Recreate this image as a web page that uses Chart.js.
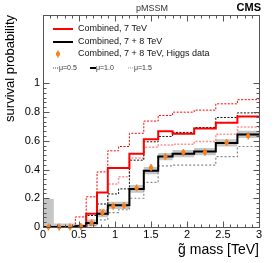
<!DOCTYPE html>
<html>
<head>
<meta charset="utf-8">
<script src="https://cdn.jsdelivr.net/npm/chart.js@4/dist/chart.umd.min.js"></script>
<style>
html, body { margin: 0; padding: 0; background: #fff; }
#chart { display: block; }
</style>
</head>
<body>
<canvas id="chart" width="274" height="263"></canvas>
<script>
// gluino mass bins (TeV)
const binEdges = [0, 0.15, 0.3, 0.45, 0.6, 0.75, 0.9, 1.05, 1.2, 1.4, 1.6, 1.8, 2.1, 2.4, 2.7, 3.0];

// survival probability per bin
const comb7 = [0, 0, 0, 0.005, 0.093, 0.24, 0.41, 0.41, 0.51, 0.611, 0.667, 0.648, 0.686, 0.726, 0.769];
const comb7Mu05 = [0, 0, 0, 0.07, 0.21, 0.383, 0.53, 0.56, 0.652, 0.737, 0.776, 0.799, 0.813, 0.857, 0.886];
const comb7Mu15 = [0, 0, 0, 0, 0.02, 0.12, 0.30, 0.35, 0.48, 0.555, 0.57, 0.575, 0.595, 0.646, 0.695];
const comb78 = [0, 0, 0, 0.005, 0.028, 0.093, 0.151, 0.151, 0.265, 0.392, 0.49, 0.51, 0.525, 0.585, 0.644];
const comb78Mu05 = [0, 0, 0, 0.01, 0.08, 0.16, 0.23, 0.265, 0.465, 0.593, 0.63, 0.658, 0.692, 0.762, 0.794];
const comb78Mu15 = [0, 0, 0, 0, 0.01, 0.05, 0.10, 0.12, 0.20, 0.31, 0.425, 0.43, 0.43, 0.49, 0.56];
const bandLow = [0, 0, 0, 0, 0.005, 0.068, 0.126, 0.126, 0.238, 0.367, 0.465, 0.485, 0.5, 0.56, 0.619];
const bandHigh = [0.195, 0.025, 0.025, 0.02, 0.053, 0.118, 0.176, 0.176, 0.292, 0.417, 0.515, 0.535, 0.55, 0.61, 0.669];
const higgs = [0, 0, 0, 0.003, 0.03, 0.10, 0.144, 0.149, 0.272, 0.414, 0.49, 0.518, 0.52, 0.588, 0.634];

const xTicks = [0, 0.5, 1, 1.5, 2, 2.5, 3];
const yTicks = [0, 0.2, 0.4, 0.6, 0.8, 1];

const FONT = 'Liberation Sans, Arial, Helvetica, sans-serif';
const ORANGE = '#f7801f';

function steps(vals) {
    const pts = vals.map((v, i) => ({ x: binEdges[i], y: v }));
    pts.push({ x: binEdges[binEdges.length - 1], y: vals[vals.length - 1] });
    return pts;
}

function centers(vals) {
    return vals.map((v, i) => ({ x: (binEdges[i] + binEdges[i + 1]) / 2, y: v }));
}

function stepLine(vals, color, width, dash, order) {
    return {
        data: steps(vals),
        stepped: 'before',
        borderColor: color,
        borderWidth: width,
        borderDash: dash,
        pointRadius: 0,
        fill: false,
        clip: false,
        order: order
    };
}

// frame with inward ticks on all four sides
const frame = {
    id: 'frame',
    afterDatasetsDraw(chart) {
        const { ctx, chartArea: a, scales: { x, y } } = chart;
        ctx.save();
        ctx.strokeStyle = '#555';
        ctx.lineWidth = 1;
        const l = Math.round(a.left) + 0.5, r = Math.round(a.right) + 0.5;
        const t = Math.round(a.top) + 0.5, b = Math.round(a.bottom) + 0.5;
        ctx.strokeRect(l, t, r - l, b - t);
        ctx.beginPath();
        for (let i = 0; i <= 30; i++) {
            const px = Math.round(x.getPixelForValue(i * 0.1)) + 0.5;
            const len = i % 5 === 0 ? 6 : 3;
            ctx.moveTo(px, b); ctx.lineTo(px, b - len);
            ctx.moveTo(px, t); ctx.lineTo(px, t + len);
        }
        for (let i = 0; i <= 30; i++) {
            const py = Math.round(y.getPixelForValue(i * 0.2 / 6)) + 0.5;
            const len = i % 6 === 0 ? 6 : 3;
            ctx.moveTo(l, py); ctx.lineTo(l + len, py);
            ctx.moveTo(r, py); ctx.lineTo(r - len, py);
        }
        ctx.stroke();
        ctx.restore();
    }
};

// header texts and legend
const decor = {
    id: 'decor',
    afterDraw(chart) {
        const { ctx } = chart;
        ctx.save();
        ctx.textBaseline = 'middle';
        ctx.fillStyle = '#333';
        ctx.font = '9px ' + FONT;
        ctx.textAlign = 'center';
        ctx.fillText('pMSSM', 152, 9);
        ctx.fillStyle = '#000';
        ctx.font = 'bold 11px ' + FONT;
        ctx.textAlign = 'right';
        ctx.fillText('CMS', 261, 8);

        ctx.textAlign = 'left';
        ctx.font = '9px ' + FONT;
        ctx.fillStyle = '#111';
        const rows = [
            { y: 29, text: 'Combined, 7 TeV', color: '#ff0000' },
            { y: 42, text: 'Combined, 7 + 8 TeV', color: '#000' },
            { y: 54, text: 'Combined, 7 + 8 TeV, Higgs data', marker: true }
        ];
        rows.forEach(row => {
            if (row.marker) {
                ctx.strokeStyle = ORANGE;
                ctx.fillStyle = ORANGE;
                ctx.lineWidth = 1.5;
                ctx.beginPath();
                ctx.moveTo(58, row.y - 3.5); ctx.lineTo(58, row.y + 3.5);
                ctx.stroke();
                ctx.beginPath();
                ctx.arc(58, row.y, 2.2, 0, Math.PI * 2);
                ctx.fill();
            } else {
                ctx.strokeStyle = row.color;
                ctx.lineWidth = 2;
                ctx.beginPath();
                ctx.moveTo(53, row.y); ctx.lineTo(73, row.y);
                ctx.stroke();
            }
            ctx.fillStyle = '#111';
            ctx.fillText(row.text, 78, row.y);
        });

        ctx.font = '7px ' + FONT;
        const muRow = [
            { x: 53, text: '\u03bc=0.5', color: '#444', width: 1, dash: [1, 1] },
            { x: 90, text: '\u03bc=1.0', color: '#000', width: 2, dash: [] },
            { x: 128, text: '\u03bc=1.5', color: '#999', width: 1, dash: [1, 1] }
        ];
        muRow.forEach(m => {
            ctx.strokeStyle = m.color;
            ctx.lineWidth = m.width;
            ctx.setLineDash(m.dash);
            ctx.beginPath();
            ctx.moveTo(m.x, 68); ctx.lineTo(m.x + 6, 68);
            ctx.stroke();
            ctx.setLineDash([]);
            ctx.fillStyle = '#333';
            ctx.fillText(m.text, m.x + 6, 68);
        });
        ctx.restore();
    }
};

const ctx = document.getElementById('chart').getContext('2d');
new Chart(ctx, {
    type: 'line',
    data: {
        datasets: [
            {
                data: centers(higgs),
                showLine: false,
                pointStyle: 'line',
                pointRotation: 90,
                pointRadius: 3.5,
                borderColor: ORANGE,
                borderWidth: 1.5,
                clip: false,
                order: 0
            },
            {
                data: centers(higgs),
                showLine: false,
                pointStyle: 'circle',
                pointRadius: 2.2,
                backgroundColor: ORANGE,
                borderWidth: 0,
                clip: false,
                order: 0
            },
            stepLine(comb78, '#000', 2, [], 1),
            stepLine(comb7, '#ff0000', 2, [], 2),
            stepLine(comb78Mu05, '#111', 1, [2, 1.5], 3),
            stepLine(comb7Mu05, '#ff0000', 1, [2, 1.5], 3),
            stepLine(comb78Mu15, '#888', 1.2, [2, 2], 4),
            stepLine(comb7Mu15, 'rgba(255,70,70,0.6)', 1.5, [2, 1.5], 4),
            {
                data: steps(bandLow),
                stepped: 'before',
                borderWidth: 0,
                pointRadius: 0,
                fill: false,
                order: 9
            },
            {
                data: steps(bandHigh),
                stepped: 'before',
                borderWidth: 0,
                pointRadius: 0,
                fill: '-1',
                backgroundColor: '#c6c6c6',
                order: 9
            }
        ]
    },
    options: {
        responsive: false,
        animation: false,
        devicePixelRatio: 1,
        layout: { padding: { left: 0, right: 15, top: 15, bottom: 0 } },
        plugins: {
            legend: { display: false },
            tooltip: { enabled: false }
        },
        scales: {
            x: {
                type: 'linear',
                min: 0,
                max: 3,
                afterBuildTicks: s => { s.ticks = xTicks.map(v => ({ value: v })); },
                afterFit: s => { s.height = 36; },
                grid: { display: false, drawTicks: false },
                border: { display: false },
                ticks: {
                    padding: 1,
                    color: '#000',
                    maxRotation: 0,
                    autoSkip: false,
                    font: { family: FONT, size: 11 },
                    callback: v => String(v)
                },
                title: {
                    display: true,
                    text: 'g\u0303 mass [TeV]',
                    align: 'end',
                    color: '#000',
                    font: { family: FONT, size: 14 },
                    padding: { top: 0, bottom: 4 }
                }
            },
            y: {
                type: 'linear',
                min: 0,
                max: 1.475,
                afterBuildTicks: s => { s.ticks = yTicks.map(v => ({ value: v })); },
                afterFit: s => { s.width = 43; },
                grid: { display: false, drawTicks: false },
                border: { display: false },
                ticks: {
                    padding: 3,
                    color: '#000',
                    autoSkip: false,
                    font: { family: FONT, size: 11 },
                    callback: v => String(v)
                },
                title: {
                    display: true,
                    text: 'survival probability',
                    align: 'end',
                    color: '#000',
                    font: { family: FONT, size: 13 },
                    padding: { top: 3, bottom: 0 }
                }
            }
        }
    },
    plugins: [frame, decor]
});
</script>
</body>
</html>
